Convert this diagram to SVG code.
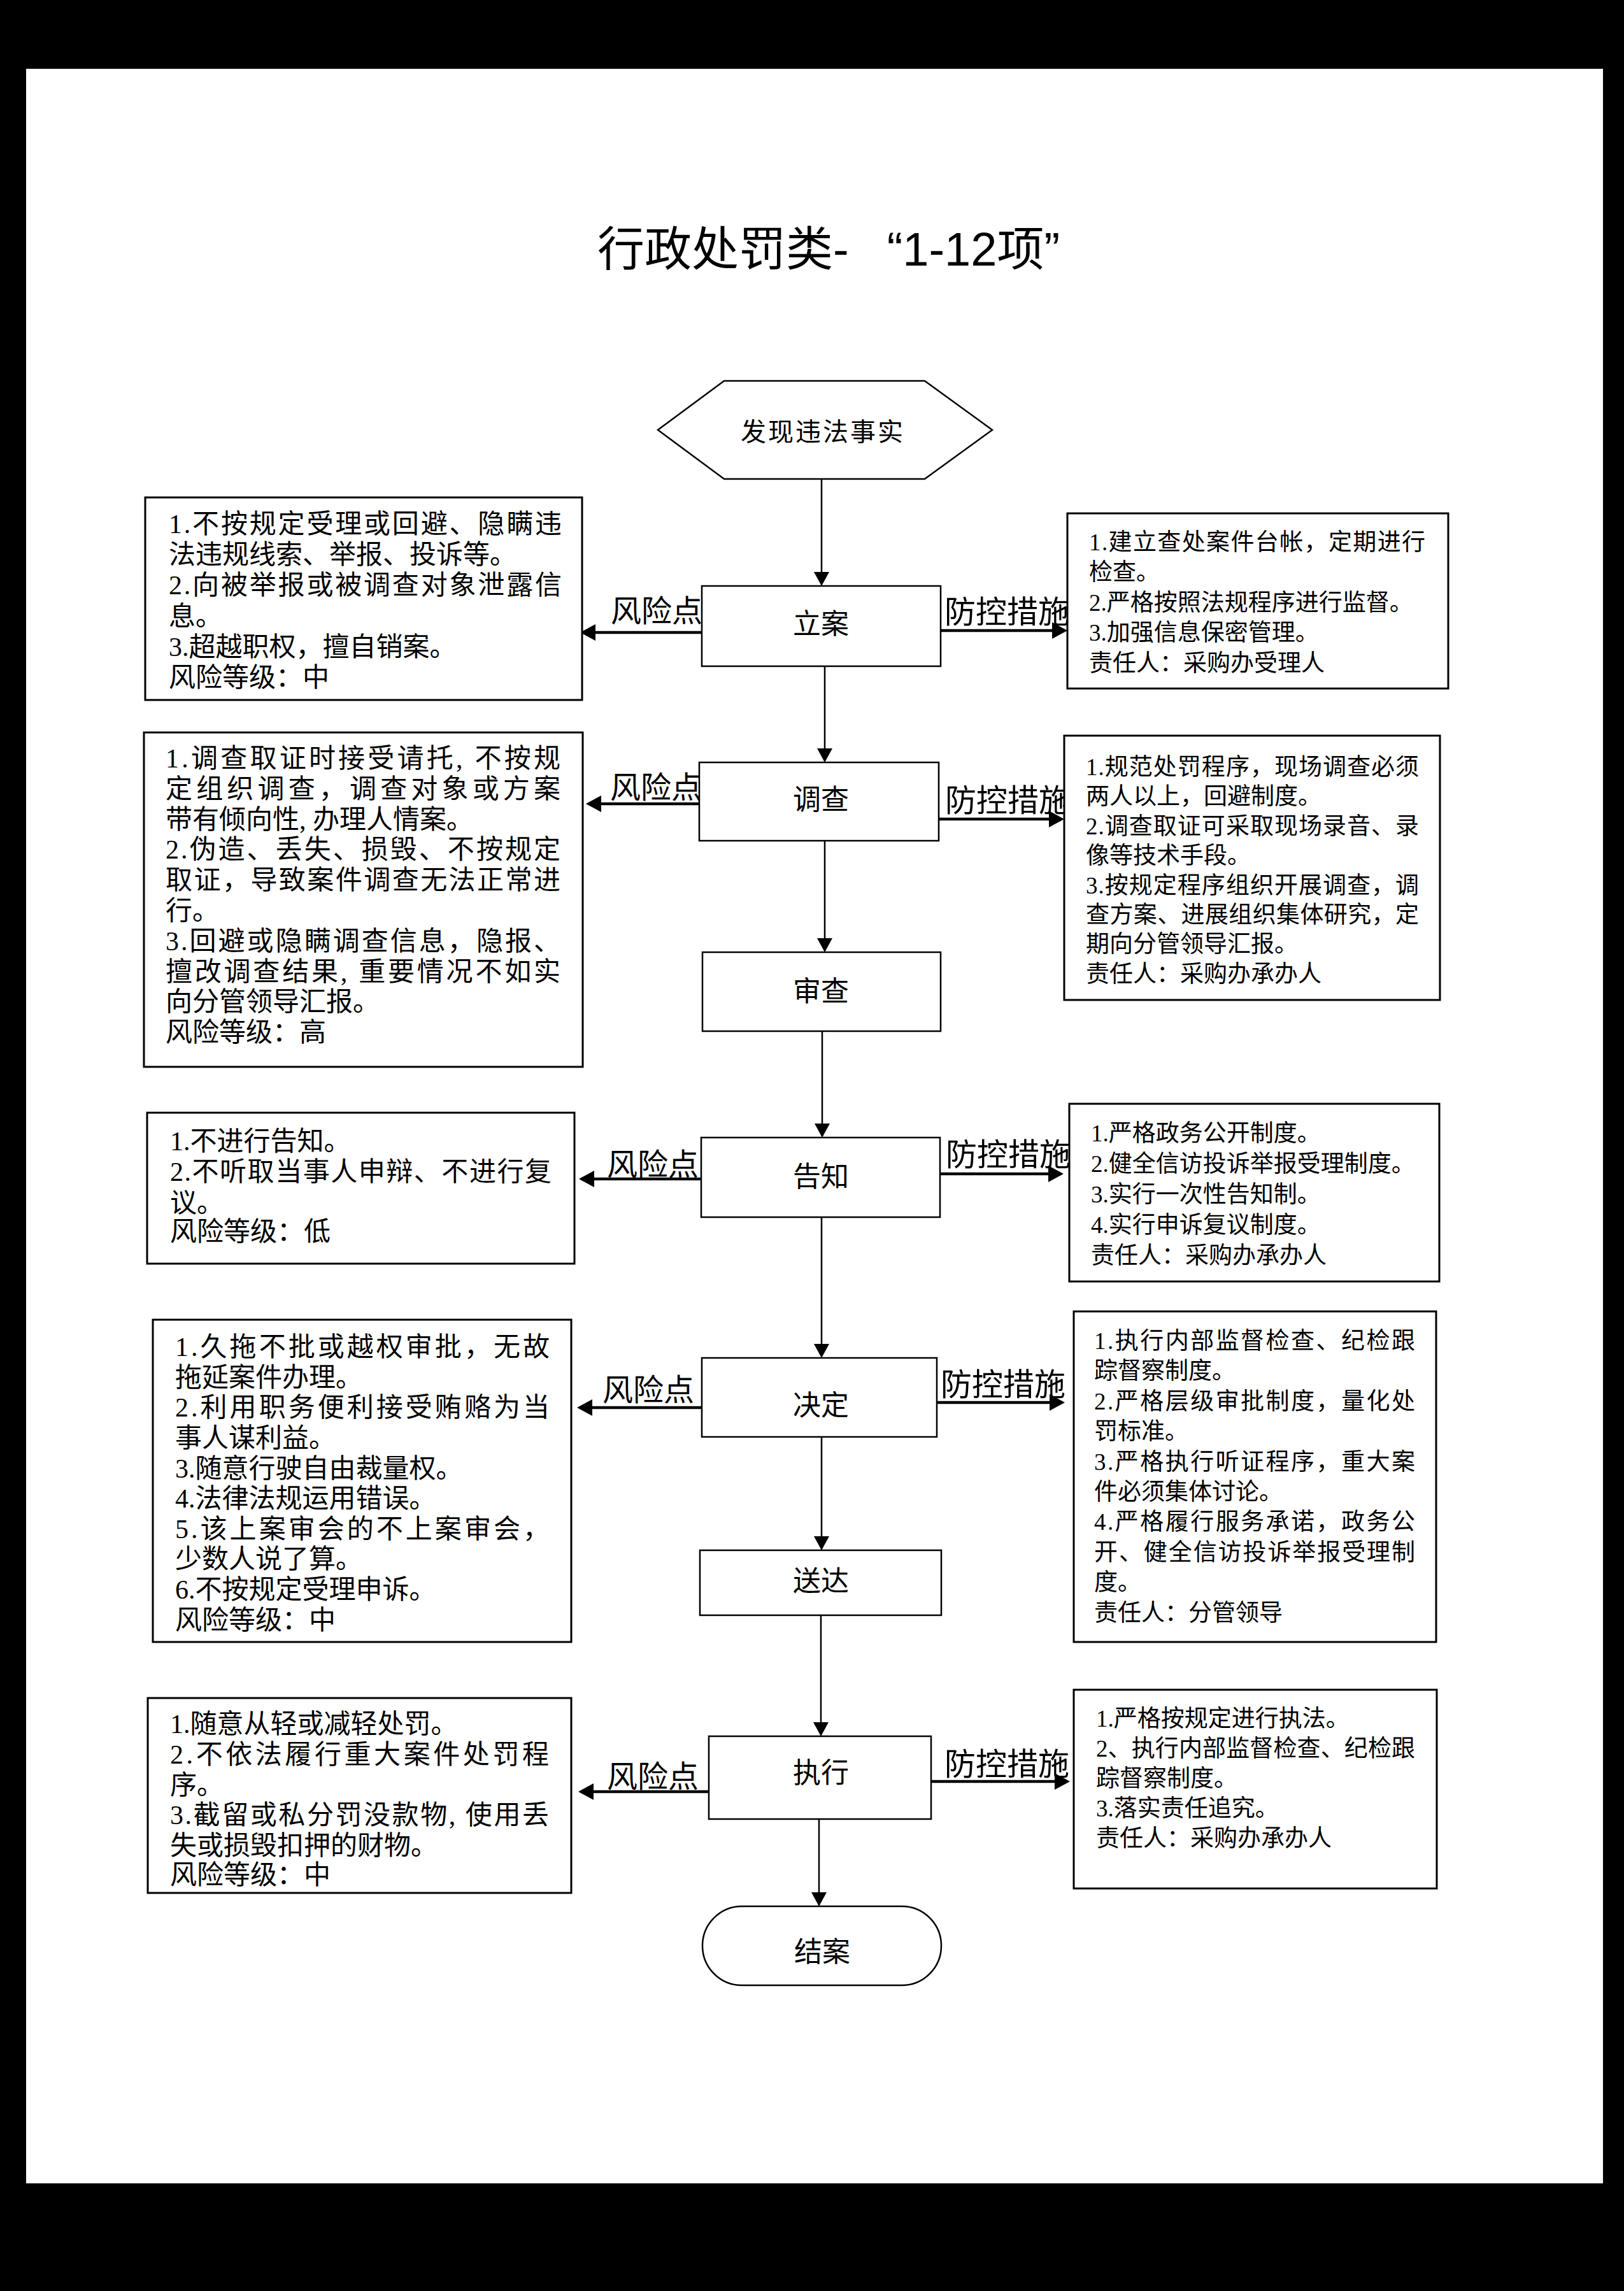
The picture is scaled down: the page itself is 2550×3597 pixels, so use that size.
<svg xmlns="http://www.w3.org/2000/svg" width="2550" height="3597" viewBox="0 0 2550 3597">
<defs>
<style>
.bx{fill:#fff;stroke:#000;stroke-width:3}
.nd{fill:#fff;stroke:#000;stroke-width:2.5}
.main{stroke:#000;stroke-width:2.5;fill:none;marker-end:url(#ah)}
.side{stroke:#000;stroke-width:4.5;fill:none;marker-end:url(#ahb)}
.tl{font-family:"Liberation Serif","Noto Sans CJK SC",serif;font-size:42px;fill:#000}
.tr{font-family:"Liberation Serif","Noto Sans CJK SC",serif;font-size:37px;fill:#000}
.lbl{font-family:"Noto Sans CJK SC",sans-serif;font-size:48px;fill:#000}
.nt{font-family:"Noto Sans CJK SC",sans-serif;font-size:44px;fill:#000;text-anchor:middle}
.title{font-family:"Liberation Sans","Noto Sans CJK SC",sans-serif;font-size:74px;fill:#000}
</style>
<marker id="ah" markerUnits="userSpaceOnUse" viewBox="0 0 22 24" markerWidth="22" markerHeight="24" refX="20" refY="12" orient="auto"><path d="M0,0 L22,12 L0,24 z" fill="#000"/></marker>
<marker id="ahb" markerUnits="userSpaceOnUse" viewBox="0 0 24 26" markerWidth="24" markerHeight="26" refX="20" refY="13" orient="auto"><path d="M0,0 L24,13 L0,26 z" fill="#000"/></marker>
</defs>

<g id="page">
<rect x="0" y="0" width="2550" height="3597" fill="#000"/>
<rect x="41" y="108" width="2476" height="3320" fill="#fff"/>
</g>

<text id="title" class="title" x="938" y="417">行政处罚类-<tspan dx="60">“1-12项”</tspan></text>

<g id="connectors">
<path class="main" d="M1290,752 V918"/>
<path class="main" d="M1295,1046 V1195"/>
<path class="main" d="M1295,1320 V1493"/>
<path class="main" d="M1291,1619 V1784"/>
<path class="main" d="M1290,1911 V2130"/>
<path class="main" d="M1290,2256 V2432"/>
<path class="main" d="M1289,2536 V2724"/>
<path class="main" d="M1286,2856 V2991"/>

<path class="side" d="M1102,993 H915"/>
<path class="side" d="M1477,990 H1672"/>
<path class="side" d="M1098,1262 H924"/>
<path class="side" d="M1474,1286 H1667"/>
<path class="side" d="M1101,1851 H913"/>
<path class="side" d="M1476,1843 H1666"/>
<path class="side" d="M1102,2210 H910"/>
<path class="side" d="M1471,2202 H1668"/>
<path class="side" d="M1113,2813 H912"/>
<path class="side" d="M1462,2797 H1676"/>

<text class="lbl" x="959" y="976">风险点</text>
<text class="lbl" x="1483" y="978" style="font-size:49px">防控措施</text>
<text class="lbl" x="958" y="1253">风险点</text>
<text class="lbl" x="1484" y="1274" style="font-size:49px">防控措施</text>
<text class="lbl" x="953" y="1845">风险点</text>
<text class="lbl" x="1485" y="1830" style="font-size:49px">防控措施</text>
<text class="lbl" x="946" y="2199">风险点</text>
<text class="lbl" x="1477" y="2191" style="font-size:49px">防控措施</text>
<text class="lbl" x="953" y="2806">风险点</text>
<text class="lbl" x="1483" y="2787" style="font-size:49px">防控措施</text>
</g>

<g id="start">
<polygon class="nd" points="1033,675 1137,598 1452,598 1558,675 1452,752 1137,752"/>
<text class="nt" x="1292" y="692" style="font-size:40px;letter-spacing:3px">发现违法事实</text>
</g>
<g id="lian">
<rect class="nd" x="1102" y="920" width="375" height="126"/>
<text class="nt" x="1289" y="995">立案</text>
</g>
<g id="diaocha">
<rect class="nd" x="1098" y="1197" width="376" height="123"/>
<text class="nt" x="1289" y="1271">调查</text>
</g>
<g id="shencha">
<rect class="nd" x="1103" y="1495" width="374" height="124"/>
<text class="nt" x="1289" y="1572">审查</text>
</g>
<g id="gaozhi">
<rect class="nd" x="1101" y="1786" width="375" height="125"/>
<text class="nt" x="1289" y="1863">告知</text>
</g>
<g id="jueding">
<rect class="nd" x="1102" y="2132" width="369" height="124"/>
<text class="nt" x="1289" y="2222">决定</text>
</g>
<g id="songda">
<rect class="nd" x="1099" y="2434" width="379" height="102"/>
<text class="nt" x="1289" y="2498">送达</text>
</g>
<g id="zhixing">
<rect class="nd" x="1113" y="2726" width="349" height="130"/>
<text class="nt" x="1289" y="2799">执行</text>
</g>
<g id="end">
<rect class="nd" x="1103" y="2993" width="375" height="124" rx="62" ry="62"/>
<text class="nt" x="1291" y="3080">结案</text>
</g>

<g id="risk1">
<rect class="bx" x="228" y="781" width="686" height="318"/>
<text class="tl" x="265" y="837" textLength="617">1.不按规定受理或回避、隐瞒违</text>
<text class="tl" x="265" y="885">法违规线索、举报、投诉等。</text>
<text class="tl" x="265" y="933" textLength="617">2.向被举报或被调查对象泄露信</text>
<text class="tl" x="265" y="982">息。</text>
<text class="tl" x="265" y="1030">3.超越职权，擅自销案。</text>
<text class="tl" x="265" y="1078">风险等级：中</text>
</g>
<g id="ctrl1">
<rect class="bx" x="1676" y="806" width="598" height="275"/>
<text class="tr" x="1710" y="864" textLength="528">1.建立查处案件台帐，定期进行</text>
<text class="tr" x="1710" y="911">检查。</text>
<text class="tr" x="1710" y="959">2.严格按照法规程序进行监督。</text>
<text class="tr" x="1710" y="1006">3.加强信息保密管理。</text>
<text class="tr" x="1710" y="1054">责任人：采购办受理人</text>
</g>

<g id="risk2">
<rect class="bx" x="226" y="1150" width="689" height="525"/>
<text class="tl" x="260" y="1205" textLength="620">1.调查取证时接受请托, 不按规</text>
<text class="tl" x="260" y="1253" textLength="620">定组织调查，调查对象或方案</text>
<text class="tl" x="260" y="1301">带有倾向性, 办理人情案。</text>
<text class="tl" x="260" y="1348" textLength="620">2.伪造、丢失、损毁、不按规定</text>
<text class="tl" x="260" y="1396" textLength="620">取证，导致案件调查无法正常进</text>
<text class="tl" x="260" y="1444">行。</text>
<text class="tl" x="260" y="1492" textLength="620">3.回避或隐瞒调查信息，隐报、</text>
<text class="tl" x="260" y="1540" textLength="620">擅改调查结果, 重要情况不如实</text>
<text class="tl" x="260" y="1587">向分管领导汇报。</text>
<text class="tl" x="260" y="1635">风险等级：高</text>
</g>
<g id="ctrl2">
<rect class="bx" x="1671" y="1155" width="590" height="415"/>
<text class="tr" x="1705" y="1217" textLength="523">1.规范处罚程序，现场调查必须</text>
<text class="tr" x="1705" y="1263">两人以上，回避制度。</text>
<text class="tr" x="1705" y="1310" textLength="523">2.调查取证可采取现场录音、录</text>
<text class="tr" x="1705" y="1356">像等技术手段。</text>
<text class="tr" x="1705" y="1403" textLength="523">3.按规定程序组织开展调查，调</text>
<text class="tr" x="1705" y="1449" textLength="523">查方案、进展组织集体研究，定</text>
<text class="tr" x="1705" y="1495">期向分管领导汇报。</text>
<text class="tr" x="1705" y="1542">责任人：采购办承办人</text>
</g>

<g id="risk3">
<rect class="bx" x="231" y="1747" width="671" height="237"/>
<text class="tl" x="267" y="1806">1.不进行告知。</text>
<text class="tl" x="267" y="1854" textLength="599">2.不听取当事人申辩、不进行复</text>
<text class="tl" x="267" y="1903">议。</text>
<text class="tl" x="267" y="1948">风险等级：低</text>
</g>
<g id="ctrl3">
<rect class="bx" x="1679" y="1733" width="581" height="279"/>
<text class="tr" x="1713" y="1792">1.严格政务公开制度。</text>
<text class="tr" x="1713" y="1840">2.健全信访投诉举报受理制度。</text>
<text class="tr" x="1713" y="1888">3.实行一次性告知制。</text>
<text class="tr" x="1713" y="1936">4.实行申诉复议制度。</text>
<text class="tr" x="1713" y="1984">责任人：采购办承办人</text>
</g>

<g id="risk4">
<rect class="bx" x="240" y="2072" width="657" height="506"/>
<text class="tl" x="275" y="2129" textLength="588">1.久拖不批或越权审批，无故</text>
<text class="tl" x="275" y="2177">拖延案件办理。</text>
<text class="tl" x="275" y="2224" textLength="588">2.利用职务便利接受贿赂为当</text>
<text class="tl" x="275" y="2272">事人谋利益。</text>
<text class="tl" x="275" y="2320">3.随意行驶自由裁量权。</text>
<text class="tl" x="275" y="2367">4.法律法规运用错误。</text>
<text class="tl" x="275" y="2415" textLength="588">5.该上案审会的不上案审会，</text>
<text class="tl" x="275" y="2462">少数人说了算。</text>
<text class="tl" x="275" y="2510">6.不按规定受理申诉。</text>
<text class="tl" x="275" y="2558">风险等级：中</text>
</g>
<g id="ctrl4">
<rect class="bx" x="1686" y="2059" width="569" height="519"/>
<text class="tr" x="1718" y="2118" textLength="504">1.执行内部监督检查、纪检跟</text>
<text class="tr" x="1718" y="2165">踪督察制度。</text>
<text class="tr" x="1718" y="2213" textLength="504">2.严格层级审批制度，量化处</text>
<text class="tr" x="1718" y="2260">罚标准。</text>
<text class="tr" x="1718" y="2308" textLength="504">3.严格执行听证程序，重大案</text>
<text class="tr" x="1718" y="2355">件必须集体讨论。</text>
<text class="tr" x="1718" y="2402" textLength="504">4.严格履行服务承诺，政务公</text>
<text class="tr" x="1718" y="2450" textLength="504">开、健全信访投诉举报受理制</text>
<text class="tr" x="1718" y="2497">度。</text>
<text class="tr" x="1718" y="2545">责任人：分管领导</text>
</g>

<g id="risk5">
<rect class="bx" x="232" y="2666" width="665" height="306"/>
<text class="tl" x="267" y="2721">1.随意从轻或减轻处罚。</text>
<text class="tl" x="267" y="2769" textLength="595">2.不依法履行重大案件处罚程</text>
<text class="tl" x="267" y="2817">序。</text>
<text class="tl" x="267" y="2864" textLength="595">3.截留或私分罚没款物, 使用丢</text>
<text class="tl" x="267" y="2912">失或损毁扣押的财物。</text>
<text class="tl" x="267" y="2958">风险等级：中</text>
</g>
<g id="ctrl5">
<rect class="bx" x="1686" y="2653" width="570" height="312"/>
<text class="tr" x="1721" y="2711">1.严格按规定进行执法。</text>
<text class="tr" x="1721" y="2758" textLength="501">2、执行内部监督检查、纪检跟</text>
<text class="tr" x="1721" y="2805">踪督察制度。</text>
<text class="tr" x="1721" y="2852">3.落实责任追究。</text>
<text class="tr" x="1721" y="2899">责任人：采购办承办人</text>
</g>
</svg>
